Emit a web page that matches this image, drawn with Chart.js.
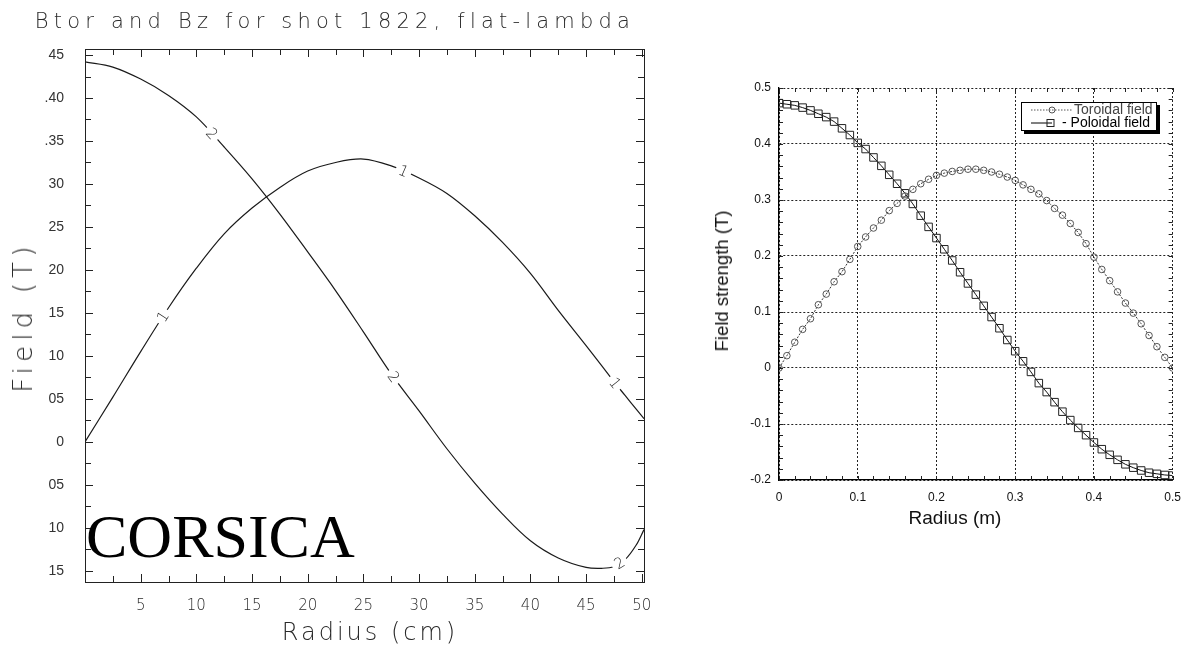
<!DOCTYPE html>
<html>
<head>
<meta charset="utf-8">
<script src="https://cdn.jsdelivr.net/npm/chart.js"></script>
<style>
  body { margin: 0; width: 1191px; height: 654px; background: #fff; position: relative; overflow: hidden; }
  .abs { position: absolute; }
  .thin { font-family: 'DejaVu Sans', sans-serif; font-weight: 300; color: #2a2a2a; white-space: nowrap; }
  .sans { font-family: 'Liberation Sans', Arial, sans-serif; color: #111; white-space: nowrap; }
  #ttl { left: 335px; top: 21px; font-size: 21px; letter-spacing: 5.2px; transform: translate(-50%, -50%); }
  #ylab { left: 23px; top: 317px; font-size: 26px; letter-spacing: 5.2px; transform: translate(-50%, -50%) rotate(-90deg); }
  #xlab { left: 370px; top: 632px; font-size: 24px; letter-spacing: 3px; transform: translate(-50%, -50%); }
  #corsica { left: 86px; top: 505px; font-family: 'Liberation Serif', serif; font-size: 62px; line-height: 62px; color: #000; }
  #ylabR { left: 722px; top: 281px; font-size: 18.5px; transform: translate(-50%, -50%) rotate(-90deg); }
  #xlabR { left: 955px; top: 518px; font-size: 19px; transform: translate(-50%, -50%); }
  #legend { left: 1021px; top: 102px; width: 134px; height: 27px; border: 1px solid #000; box-shadow: 3px 3px 0 #000;
            background: #fff; font-family: 'Liberation Sans', Arial, sans-serif; font-size: 14px; line-height: 13px; }
  #legend .row { display: flex; align-items: center; height: 13px; padding-left: 8px; white-space: nowrap; }
</style>
</head>
<body>
<canvas id="leftChart" class="abs" width="665" height="654" style="left:0;top:0"></canvas>
<canvas id="rightChart" class="abs" width="491" height="490" style="left:700px;top:55px"></canvas>

<div id="ttl" class="abs thin">Btor and Bz for shot 1822, flat-lambda</div>
<div id="ylab" class="abs thin">Field (T)</div>
<div id="xlab" class="abs thin">Radius (cm)</div>
<div id="corsica" class="abs">CORSICA</div>

<div id="ylabR" class="abs sans">Field strength (T)</div>
<div id="xlabR" class="abs sans">Radius (m)</div>

<div id="legend" class="abs">
  <div class="row">
    <svg width="44" height="12"><line x1="1" y1="6" x2="43" y2="6" stroke="#555" stroke-dasharray="1.5,1.5"/><circle cx="22" cy="6" r="3" fill="none" stroke="#555"/></svg>
    <span style="color:#444">Toroidal field</span>
  </div>
  <div class="row">
    <svg width="32" height="12"><line x1="1" y1="6" x2="22" y2="6" stroke="#000"/><rect x="17" y="2.5" width="7" height="7" fill="none" stroke="#222"/></svg>
    <span>- Poloidal field</span>
  </div>
</div>

<script>
// left plot (CORSICA), radius in cm
const radiusCm = [0, 2.5, 5, 7.5, 10, 12.5, 15, 17.5, 20, 22.5, 25, 27.5, 30, 32.5, 35, 37.5, 40, 42.5, 45, 46.5, 47.5, 48.5, 49.5, 50.2];
const btorCm   = [0, 0.052, 0.105, 0.156, 0.202, 0.242, 0.272, 0.296, 0.315, 0.325, 0.329, 0.321, 0.307, 0.289, 0.263, 0.232, 0.196, 0.153, 0.112, 0.087, 0.070, 0.054, 0.038, 0.027];
const bzCm     = [0.442, 0.436, 0.422, 0.403, 0.378, 0.343, 0.306, 0.265, 0.221, 0.176, 0.128, 0.079, 0.036, -0.008, -0.048, -0.084, -0.115, -0.135, -0.146, -0.147, -0.145, -0.137, -0.120, -0.102];
const xTicksCm = [5, 10, 15, 20, 25, 30, 35, 40, 45, 50];
const yTicksT  = [-0.15, -0.10, -0.05, 0, 0.05, 0.10, 0.15, 0.20, 0.25, 0.30, 0.35, 0.40, 0.45];
const yTickTextT = ['15', '10', '05', '0', '05', '10', '15', '20', '25', '30', '.35', '.40', '45'];
// where the contour-style numbers sit on the curves (dataset index, radius)
const curveTags = [
  { ds: 1, r: 11.4, text: '2' }, { ds: 0, r: 28.6, text: '1' }, { ds: 0, r: 7.0, text: '1' },
  { ds: 1, r: 27.7, text: '2' }, { ds: 0, r: 47.6, text: '1' }, { ds: 1, r: 48.0, text: '2' }
];

// right plot, radius in m
const radiusM = [0, 0.01, 0.02, 0.03, 0.04, 0.05, 0.06, 0.07, 0.08, 0.09, 0.10, 0.11, 0.12, 0.13, 0.14, 0.15, 0.16, 0.17, 0.18, 0.19, 0.20,
                 0.21, 0.22, 0.23, 0.24, 0.25, 0.26, 0.27, 0.28, 0.29, 0.30, 0.31, 0.32, 0.33, 0.34, 0.35, 0.36, 0.37, 0.38, 0.39, 0.40,
                 0.41, 0.42, 0.43, 0.44, 0.45, 0.46, 0.47, 0.48, 0.49, 0.50];
const toroidal = [0.000, 0.022, 0.046, 0.069, 0.088, 0.113, 0.132, 0.154, 0.172, 0.194, 0.217, 0.234, 0.250, 0.264, 0.281, 0.294, 0.307, 0.319, 0.329, 0.337, 0.344,
                  0.348, 0.351, 0.353, 0.355, 0.355, 0.353, 0.350, 0.346, 0.341, 0.335, 0.327, 0.319, 0.311, 0.299, 0.285, 0.273, 0.258, 0.242, 0.222, 0.198,
                  0.176, 0.156, 0.136, 0.116, 0.098, 0.079, 0.058, 0.038, 0.019, 0.000];
const poloidal = [0.473, 0.471, 0.469, 0.465, 0.460, 0.454, 0.448, 0.440, 0.428, 0.416, 0.402, 0.391, 0.376, 0.361, 0.345, 0.329, 0.312, 0.293, 0.272, 0.252, 0.232,
                  0.212, 0.192, 0.171, 0.151, 0.131, 0.111, 0.091, 0.071, 0.050, 0.030, 0.012, -0.007, -0.027, -0.043, -0.061, -0.078, -0.093, -0.107, -0.120, -0.133,
                  -0.145, -0.155, -0.164, -0.172, -0.178, -0.183, -0.187, -0.189, -0.191, -0.192];
const xTicksM = [0, 0.1, 0.2, 0.3, 0.4, 0.5];
const xTickTextM = ['0', '0.1', '0.2', '0.3', '0.4', '0.5'];
const yTicksM = [-0.2, -0.1, 0, 0.1, 0.2, 0.3, 0.4, 0.5];
const yTickTextM = ['-0.2', '-0.1', '0', '0.1', '0.2', '0.3', '0.4', '0.5'];

const pairs = (xs, ys) => xs.map((x, i) => ({ x: x, y: ys[i] }));
const nearest = (list, v) => list.reduce((b, c, i) => Math.abs(c - v) < Math.abs(list[b] - v) ? i : b, 0);

// frame + inward tick marks on all four sides
const frameTicks = {
  id: 'frameTicks',
  afterDatasetsDraw(chart, args, o) {
    const { ctx, chartArea: a, scales: { x, y } } = chart;
    ctx.save();
    ctx.strokeStyle = o.color;
    ctx.lineWidth = 1;
    if (o.frame) ctx.strokeRect(a.left + 0.5, a.top + 0.5, a.right - a.left, a.bottom - a.top);
    ctx.beginPath();
    for (let i = Math.ceil(x.min / o.xStep - 1e-6); i * o.xStep <= x.max + 1e-6; i++) {
      const px = Math.round(x.getPixelForValue(i * o.xStep)) + 0.5;
      const len = (i % o.xMajor === 0) ? o.major : o.minor;
      ctx.moveTo(px, a.bottom); ctx.lineTo(px, a.bottom - len);
      ctx.moveTo(px, a.top); ctx.lineTo(px, a.top + len);
    }
    for (let i = Math.ceil(y.min / o.yStep - 1e-6); i * o.yStep <= y.max + 1e-6; i++) {
      const py = Math.round(y.getPixelForValue(i * o.yStep)) + 0.5;
      const len = (i % o.yMajor === 0) ? o.major : o.minor;
      ctx.moveTo(a.left, py); ctx.lineTo(a.left + len, py);
      ctx.moveTo(a.right, py); ctx.lineTo(a.right - len, py);
    }
    ctx.stroke();
    ctx.restore();
  }
};

// numbers written into the curves, with a small gap
const curveNumbers = {
  id: 'curveNumbers',
  afterDatasetsDraw(chart, args, o) {
    const { ctx, scales: { x } } = chart;
    ctx.save();
    ctx.font = o.font;
    ctx.textAlign = 'center';
    ctx.textBaseline = 'middle';
    o.items.forEach(it => {
      const pts = chart.getDatasetMeta(it.ds).data;
      const px = x.getPixelForValue(it.r);
      let i = 0;
      while (i < pts.length - 2 && pts[i + 1].x < px) i++;
      const p = pts[i], q = pts[i + 1];
      const t = (px - p.x) / (q.x - p.x);
      const py = p.y + t * (q.y - p.y);
      ctx.save();
      ctx.translate(px, py);
      ctx.rotate(Math.atan2(q.y - p.y, q.x - p.x));
      ctx.fillStyle = '#fff';
      ctx.fillRect(-8, -6, 16, 12);
      ctx.fillStyle = '#222';
      ctx.fillText(it.text, 0, 1);
      ctx.restore();
    });
    ctx.restore();
  }
};

Chart.defaults.animation = false;

new Chart(document.getElementById('leftChart'), {
  type: 'line',
  data: {
    datasets: [
      { label: 'Btor', data: pairs(radiusCm, btorCm), borderColor: '#1a1a1a', borderWidth: 1.2, pointRadius: 0, tension: 0.35 },
      { label: 'Bz', data: pairs(radiusCm, bzCm), borderColor: '#1a1a1a', borderWidth: 1.2, pointRadius: 0, tension: 0.35 }
    ]
  },
  options: {
    responsive: false,
    devicePixelRatio: 1,
    layout: { padding: { top: 49, right: 21, left: 0, bottom: 0 } },
    plugins: {
      legend: { display: false },
      tooltip: { enabled: false },
      frameTicks: { color: '#222', frame: true, xStep: 2.5, xMajor: 2, yStep: 0.025, yMajor: 2, major: 8, minor: 6 },
      curveNumbers: { font: '300 15px "DejaVu Sans"', items: curveTags }
    },
    scales: {
      x: {
        type: 'linear', min: 0, max: 50.2,
        afterFit: s => { s.height = 72; },
        afterBuildTicks: s => { s.ticks = xTicksCm.map(v => ({ value: v })); },
        grid: { display: false },
        border: { display: false },
        ticks: { padding: 7, color: '#2a2a2a', font: { family: 'DejaVu Sans', size: 15, weight: 300 }, maxRotation: 0,
                 callback: v => String(xTicksCm[nearest(xTicksCm, v)]) }
      },
      y: {
        type: 'linear', min: -0.163, max: 0.457,
        afterFit: s => { s.width = 85; },
        afterBuildTicks: s => { s.ticks = yTicksT.map(v => ({ value: v })); },
        grid: { display: false },
        border: { display: false },
        ticks: { padding: 13, color: '#333', font: { family: 'Liberation Sans', size: 14 },
                 callback: v => yTickTextT[nearest(yTicksT, v)] }
      }
    }
  },
  plugins: [frameTicks, curveNumbers]
});

new Chart(document.getElementById('rightChart'), {
  type: 'line',
  data: {
    datasets: [
      { label: 'Toroidal field', data: pairs(radiusM, toroidal), borderColor: '#333', borderWidth: 1, borderDash: [2, 1.5],
        pointStyle: 'circle', pointRadius: 3.3, pointBorderColor: '#555', pointBackgroundColor: 'rgba(0,0,0,0)', pointBorderWidth: 1, tension: 0 },
      { label: 'Poloidal field', data: pairs(radiusM, poloidal), borderColor: '#111', borderWidth: 1,
        pointStyle: 'rect', pointRadius: 5.3, pointBorderColor: '#222', pointBackgroundColor: 'rgba(0,0,0,0)', pointBorderWidth: 1, tension: 0 }
    ]
  },
  options: {
    responsive: false,
    devicePixelRatio: 1,
    layout: { padding: { top: 33, right: 14, left: 0, bottom: 0 } },
    plugins: {
      legend: { display: false },
      tooltip: { enabled: false },
      frameTicks: { color: '#222', frame: false, xStep: 0.02, xMajor: 5, yStep: 0.02, yMajor: 5, major: 4, minor: 4 }
    },
    scales: {
      x: {
        type: 'linear', min: 0, max: 0.5,
        afterFit: s => { s.height = 65; },
        afterBuildTicks: s => { s.ticks = xTicksM.map(v => ({ value: v })); },
        grid: { color: '#222', lineWidth: 1, drawTicks: false },
        border: { display: true, color: '#000', width: 1.3, dash: [2, 2] },
        ticks: { padding: 10, color: '#111', font: { family: 'Liberation Sans', size: 12 }, maxRotation: 0,
                 callback: v => xTickTextM[nearest(xTicksM, v)] }
      },
      y: {
        type: 'linear', min: -0.2, max: 0.5,
        afterFit: s => { s.width = 79; },
        afterBuildTicks: s => { s.ticks = yTicksM.map(v => ({ value: v })); },
        grid: { color: '#222', lineWidth: 1, drawTicks: false },
        border: { display: true, color: '#000', width: 1.3, dash: [2, 2] },
        ticks: { padding: 8, color: '#111', font: { family: 'Liberation Sans', size: 12 },
                 callback: v => yTickTextM[nearest(yTicksM, v)] }
      }
    }
  },
  plugins: [frameTicks]
});
</script>
</body>
</html>
